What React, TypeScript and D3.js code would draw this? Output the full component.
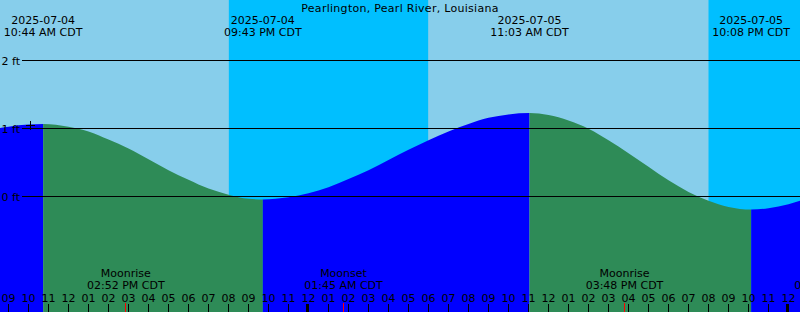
import React from 'react';
import * as d3 from 'd3';

const W = 800;
const H = 312;
const TITLE = 'Pearlington, Pearl River, Louisiana';
const parse = d3.timeParse('%Y-%m-%d %H:%M');

// Tide extremes
const tideTimes = ['2025-07-04 10:44', '2025-07-04 21:43', '2025-07-05 11:03', '2025-07-05 22:08'];
const tideHeights = [1.06, -0.05, 1.22, -0.2];
const tideDateLabels = ['2025-07-04', '2025-07-04', '2025-07-05', '2025-07-05'];
const tideTimeLabels = ['10:44 AM CDT', '09:43 PM CDT', '11:03 AM CDT', '10:08 PM CDT'];

// Hourly tide heights (ft), starting 2025-07-04 08:00
const curveStart = '2025-07-04 08:00';
const hourlyHeights = [
  0.97, 1.02, 1.05, 1.06, 1.02, 0.95, 0.83, 0.7, 0.54, 0.38, 0.24, 0.11, 0.02, -0.04,
  -0.05, -0.02, 0.04, 0.13, 0.25, 0.38, 0.53, 0.68, 0.82, 0.95, 1.06, 1.15, 1.2, 1.22,
  1.19, 1.11, 0.99, 0.82, 0.63, 0.43, 0.23, 0.06, -0.07, -0.16, -0.2, -0.18, -0.12, -0.03,
];

// Night periods
const nightStarts = ['2025-07-04 20:01', '2025-07-05 20:00'];
const nightEnds = ['2025-07-05 05:59', '2025-07-06 05:59'];

// Moon events
const moonTimes = ['2025-07-04 14:52', '2025-07-05 01:45', '2025-07-05 15:48', '2025-07-06 02:15'];
const moonKinds = ['Moonrise', 'Moonset', 'Moonrise', 'Moonset'];
const moonTimeLabels = ['02:52 PM CDT', '01:45 AM CDT', '03:48 PM CDT', '02:15 AM CDT'];

// Current-time mark
const markTime = '2025-07-04 10:06';
const markHeight = 1.05;

const yTickValues = [0, 1, 2];
const yTickLabels = ['0 ft', '1 ft', '2 ft'];

const COLORS = {
  day: '#87CEEB',
  night: '#00BFFF',
  rising: '#0000FF',
  falling: '#2E8B57',
};

const FONT = '"DejaVu Sans", sans-serif';

export default function App() {
  const x = d3
    .scaleTime()
    .domain([parse('2025-07-04 11:00')!, parse('2025-07-05 11:00')!])
    .range([48.5, 528.5]);
  const y = d3.scaleLinear().domain([0, 2]).range([196, 60]);

  const t0 = x.invert(0);
  const t1 = x.invert(W);

  const startDate = parse(curveStart)!;
  const pts: { t: Date; h: number }[] = hourlyHeights.map((h, i) => ({
    t: d3.timeHour.offset(startDate, i),
    h,
  }));
  tideTimes.forEach((s, i) => pts.push({ t: parse(s)!, h: tideHeights[i] }));
  pts.sort((a, b) => +a.t - +b.t);
  const events = tideTimes.map((s) => +parse(s)!);
  const clean = pts.filter((p) => {
    if (events.includes(+p.t)) return true;
    return !events.some((e) => Math.abs(e - +p.t) < 20 * 60 * 1000);
  });

  const area = d3
    .area<{ t: Date; h: number }>()
    .x((d) => x(d.t))
    .y0(H)
    .y1((d) => y(d.h))
    .curve(d3.curveMonotoneX);
  const areaPath = area(clean) || '';

  // Segments between extremes: rising toward a high, falling toward a low
  const bounds = [t0, ...tideTimes.map((s) => parse(s)!), t1];
  const segs = [] as { x0: number; x1: number; color: string }[];
  for (let i = 0; i < bounds.length - 1; i++) {
    const rising =
      i < tideTimes.length ? tideHeights[i] > 0.5 : tideHeights[tideHeights.length - 1] < 0.5;
    segs.push({ x0: x(bounds[i]), x1: x(bounds[i + 1]), color: rising ? COLORS.rising : COLORS.falling });
  }

  const hours = d3.timeHour.range(d3.timeHour.offset(t0, -1), d3.timeHour.offset(t1, 1));
  const fmtHour = d3.timeFormat('%I');

  const mx = x(parse(markTime)!);
  const my = y(markHeight);

  return (
    <svg
      width={W}
      height={H}
      style={{ position: 'absolute', left: 0, top: 0, display: 'block' }}
      fontFamily={FONT}
      fontSize={11}
    >
      <defs>
        {segs.map((s, i) => (
          <clipPath id={`seg${i}`} key={i}>
            <rect x={s.x0} y={0} width={s.x1 - s.x0} height={H} />
          </clipPath>
        ))}
      </defs>
      <rect x={0} y={0} width={W} height={H} fill={COLORS.day} />
      {nightStarts.map((s, i) => {
        const a = x(parse(s)!);
        const b = x(parse(nightEnds[i])!);
        return <rect key={i} x={a} y={0} width={b - a} height={H} fill={COLORS.night} />;
      })}
      {segs.map((s, i) => (
        <path key={i} d={areaPath} fill={s.color} clipPath={`url(#seg${i})`} />
      ))}
      {yTickValues.map((v, i) => (
        <g key={v}>
          <rect x={22} y={Math.round(y(v))} width={W - 22} height={1} fill="#000" />
          <text x={20} y={y(v) + 4.5} textAnchor="end" fill="#000">
            {yTickLabels[i]}
          </text>
        </g>
      ))}
      <text x={W / 2} y={12} textAnchor="middle" fill="#000" letterSpacing={0.28}>
        {TITLE}
      </text>
      {tideTimes.map((s, i) => {
        const tx = x(parse(s)!);
        return (
          <g key={s}>
            <text x={tx} y={24} textAnchor="middle" fill="#000">
              {tideDateLabels[i]}
            </text>
            <text x={tx} y={36} textAnchor="middle" fill="#000">
              {tideTimeLabels[i]}
            </text>
          </g>
        );
      })}
      {moonTimes.map((s, i) => {
        const tx = x(parse(s)!);
        return (
          <g key={s}>
            <text x={tx} y={277} textAnchor="middle" fill="#000">
              {moonKinds[i]}
            </text>
            <text x={tx} y={289} textAnchor="middle" fill="#000">
              {moonTimeLabels[i]}
            </text>
          </g>
        );
      })}
      {hours.map((h) => {
        const hx = x(h);
        const mid = h.getHours() === 0;
        return (
          <g key={+h}>
            <text x={hx} y={301.5} textAnchor="middle" fill="#000">
              {fmtHour(h)}
            </text>
            <rect
              x={mid ? Math.floor(hx) - 2 : Math.floor(hx)}
              y={304}
              width={mid ? 3 : 1}
              height={8}
              fill="#000"
            />
          </g>
        );
      })}
      {moonTimes.map((s) => (
        <rect key={'m' + s} x={Math.floor(x(parse(s)!))} y={303} width={1} height={9} fill="#FF0000" />
      ))}
      <rect x={Math.floor(mx) - 4} y={Math.round(my)} width={9} height={1} fill="#000" />
      <rect x={Math.floor(mx)} y={Math.round(my) - 4} width={1} height={9} fill="#000" />
    </svg>
  );
}
